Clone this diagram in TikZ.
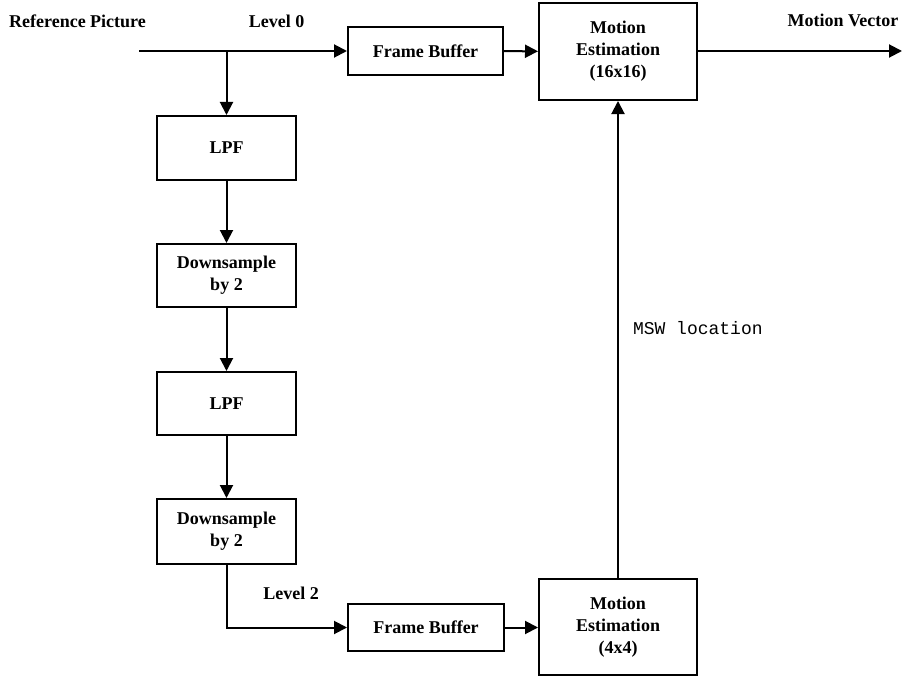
\documentclass[tikz,border=0pt]{standalone}
\usepackage{fontspec}
\setmainfont{Liberation Serif}
\setmonofont{Liberation Mono}
\usetikzlibrary{arrows.meta}
\begin{document}
\begin{tikzpicture}[x=1bp,y=-1bp,
  line width=2bp,
  blk/.style={draw,rectangle,inner sep=0pt,align=center,
    font=\fontsize{18bp}{22bp}\selectfont\bfseries},
  lbl/.style={inner sep=0pt,font=\fontsize{18bp}{22bp}\selectfont\bfseries},
  arr/.style={-{Triangle[length=13bp,width=13bp]}}]
\useasboundingbox (0,0) rectangle (903,677);

% processing blocks
\node[blk,minimum width=155bp,minimum height=48bp] (fb1) at (425.5,51) {Frame Buffer};
\node[blk,minimum width=158bp,minimum height=97bp] (me1) at (618,51.5) {Motion\\Estimation\\(16x16)};
\node[blk,minimum width=139bp,minimum height=64bp] (lpf1) at (226.5,148) {LPF};
\node[blk,minimum width=139bp,minimum height=63bp] (ds1) at (226.5,275.5) {Downsample\\by 2};
\node[blk,minimum width=139bp,minimum height=63bp] (lpf2) at (226.5,403.5) {LPF};
\node[blk,minimum width=139bp,minimum height=65bp] (ds2) at (226.5,531.5) {Downsample\\by 2};
\node[blk,minimum width=156bp,minimum height=47bp] (fb2) at (426,627.5) {Frame Buffer};
\node[blk,minimum width=158bp,minimum height=96bp] (me2) at (618,627) {Motion\\Estimation\\(4x4)};

% free ends of the input and output lines
\coordinate (in) at (139,51);
\coordinate (br) at (226.5,51);
\coordinate (out) at (902,51);

% labels
\node[lbl] (tref) at (77.5,21) {Reference Picture};
\node[lbl] (tl0) at (276.5,21) {Level 0};
\node[lbl] (tmv) at (843,20) {Motion Vector};
\node[lbl] (tl2) at (291,593) {Level 2};
\node[inner sep=0pt,anchor=west,font=\fontsize{18bp}{22bp}\selectfont\ttfamily] (tmsw) at (632,328) {MSW location};

% connectors
\draw[arr] (in) -- (fb1);
\draw[arr] (fb1) -- (me1);
\draw[arr] (me1.east |- out) -- (out);
\draw[arr] (br) -- (lpf1);
\draw[arr] (lpf1) -- (ds1);
\draw[arr] (ds1) -- (lpf2);
\draw[arr] (lpf2) -- (ds2);
\draw[arr] (ds2) |- (fb2);
\draw[arr] (fb2) -- (fb2 -| me2.west);
\draw[arr] (me2.north) -- (me1.south);
\end{tikzpicture}
\end{document}
